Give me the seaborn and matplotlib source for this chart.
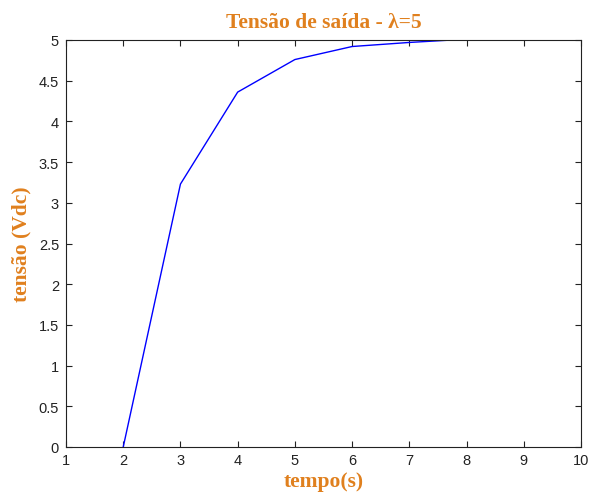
import matplotlib
matplotlib.use("Agg")
import matplotlib.pyplot as plt
import seaborn as sns
import pandas as pd

tempo = [2, 3, 4, 5, 6, 7, 7.75]
tensao = [0.0, 3.23, 4.36, 4.76, 4.92, 4.97, 5.0]
xticks = [1, 2, 3, 4, 5, 6, 7, 8, 9, 10]
yticks = [0, 0.5, 1, 1.5, 2, 2.5, 3, 3.5, 4, 4.5, 5]
yticklabels = ["0", "0.5", "1", "1.5", "2", "2.5", "3", "3.5", "4", "4.5", "5"]
title = "Tensão de saída - λ=5"
xlabel = "tempo(s)"
ylabel = "tensão (Vdc)"

sns.set_style("ticks")
plt.rcParams['font.family'] = ['Liberation Sans', 'DejaVu Sans']

df = pd.DataFrame({"tempo": tempo, "tensao": tensao})

fig = plt.figure(figsize=(5.9, 5.02), dpi=100)
ax = fig.add_axes([66/590, 1 - 448/502, (581-66)/590, (448-41)/502])
sns.lineplot(data=df, x="tempo", y="tensao", ax=ax, color="#0000FF", linewidth=1.0)

ax.set_xlim(1, 10)
ax.set_ylim(0, 5)
ax.set_xticks(xticks)
ax.set_xticklabels([str(t) for t in xticks])
ax.set_yticks(yticks)
ax.set_yticklabels(yticklabels)
ax.tick_params(direction="in", top=True, right=True, length=4.5, width=0.8,
               labelsize=10.5, colors="#222222", pad=4)
ax.tick_params(axis="y", pad=5)
for s in ax.spines.values():
    s.set_visible(True)
    s.set_color("#222222")
    s.set_linewidth(0.8)

orange = "#E0801E"
serif = ['Liberation Serif', 'DejaVu Serif']
ax.set_title(title, color=orange, fontsize=15.5, fontweight="bold", family=serif, pad=9)
ax.set_xlabel(xlabel, color=orange, fontsize=15.5, fontweight="bold", family=serif, labelpad=3)
ax.set_ylabel(ylabel, color=orange, fontsize=15.5, fontweight="bold", family=serif, labelpad=5)

fig.savefig("out.png", dpi=100, facecolor="white")
